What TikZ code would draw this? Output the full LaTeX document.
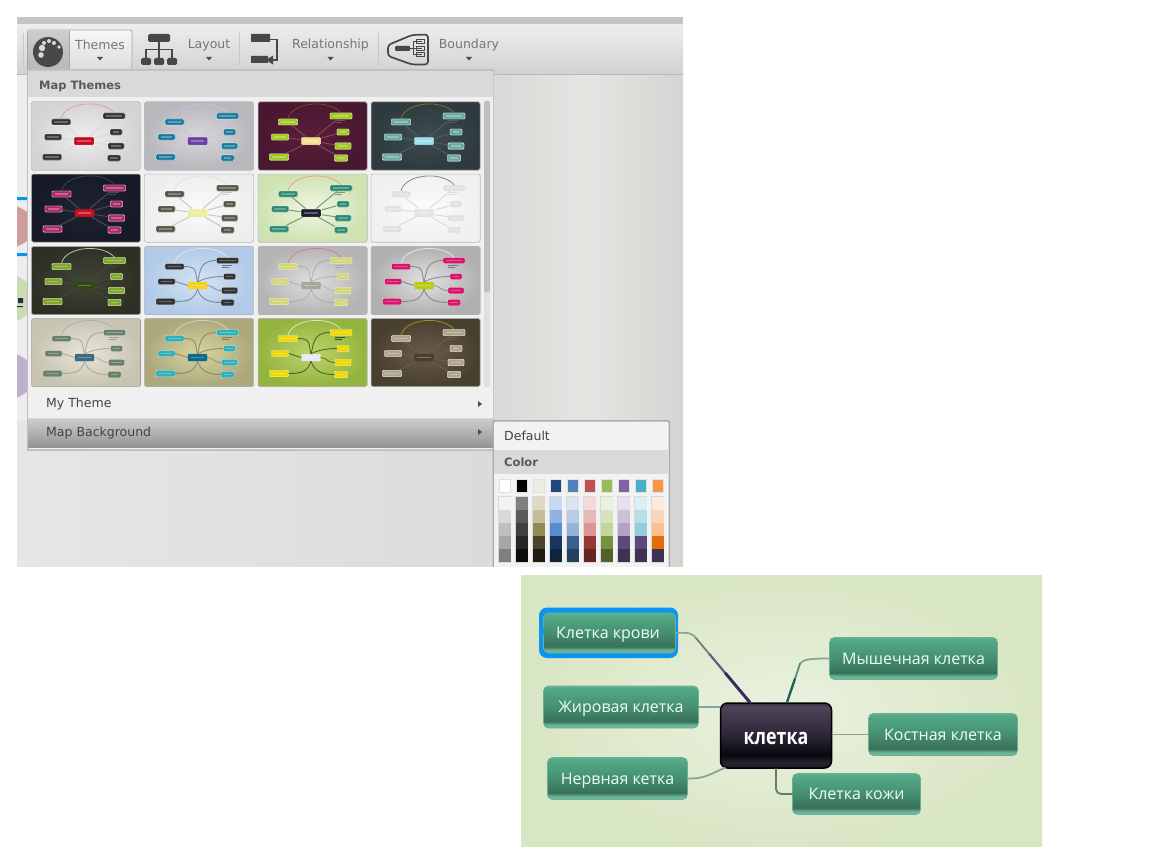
\documentclass[tikz,border=0pt]{standalone}
\usepackage{fontspec}
\setmainfont{DejaVu Sans}
\newfontfamily\mapfont{Open Sans}
\usetikzlibrary{calc}
\definecolor{tbtext}{HTML}{777777}
\definecolor{menutext}{HTML}{444444}
\definecolor{icondark}{HTML}{484848}
\definecolor{selblue}{HTML}{0A96EE}
\definecolor{leafedge}{HTML}{6FAE95}
\pgfdeclareverticalshading{greennode}{100bp}{
  rgb(0bp)=(0.44,0.74,0.62); rgb(25bp)=(0.44,0.74,0.62); rgb(29bp)=(0.40,0.70,0.58); rgb(33bp)=(0.22,0.44,0.35);
  rgb(50bp)=(0.27,0.56,0.44); rgb(73bp)=(0.32,0.67,0.53); rgb(75bp)=(0.40,0.70,0.58); rgb(100bp)=(0.40,0.70,0.58)}
\pgfdeclareverticalshading{darknode}{100bp}{rgb(0bp)=(0.1,0.09,0.13); rgb(25bp)=(0.1,0.09,0.13); rgb(29bp)=(0.16,0.14,0.2); rgb(35bp)=(0.03,0.03,0.05);
  rgb(50bp)=(0.17,0.15,0.21); rgb(72bp)=(0.30,0.27,0.35); rgb(75bp)=(0.2,0.18,0.25); rgb(100bp)=(0.2,0.18,0.25)}
\pgfdeclareverticalshading{tbshade}{100bp}{rgb(0bp)=(0.82,0.82,0.82); rgb(25bp)=(0.82,0.82,0.82); rgb(75bp)=(0.93,0.93,0.93); rgb(100bp)=(0.93,0.93,0.93)}
\pgfdeclarehorizontalshading{canvasright}{100bp}{rgb(0bp)=(0.85,0.855,0.845); rgb(25bp)=(0.85,0.855,0.845); rgb(50bp)=(0.89,0.9,0.885); rgb(75bp)=(0.825,0.835,0.82); rgb(100bp)=(0.825,0.835,0.82)}
\newcommand{\low}[2][5.5pt]{\raisebox{-#1}[0pt][0pt]{#2}}
\tikzset{
  x=1pt,y=-1pt,
  tbl/.style={font=\fontsize{12.5}{14}\selectfont,text=tbtext,inner sep=0pt},
  menul/.style={font=\fontsize{12.5}{14}\selectfont,text=menutext,inner sep=0pt,anchor=west},
  menuh/.style={font=\bfseries\fontsize{11.5}{14}\selectfont,text=black!65,inner sep=0pt,anchor=west},
  leaf/.style={shading=greennode,draw=leafedge,line width=.8pt,rounded corners=5pt,inner sep=0pt,
    text=white!93!green,font=\mapfont\fontsize{16}{18}\selectfont},
  hub/.style={shading=darknode,draw=black,line width=1.5pt,rounded corners=7pt,inner sep=0pt,
    text=white,font=\mapfont\bfseries\fontsize{21}{24}\selectfont},
  link/.style={line width=1.8pt,draw=#1,line cap=round},
  tnode/.style={draw=white,draw opacity=.75,line width=.4pt,rounded corners=1pt,inner sep=0pt,minimum height=6pt},
}
% x y bgin bgout centre node arc line curved
\newcommand{\thumbcard}[9]{%
\definecolor{tin}{HTML}{#3}\definecolor{tout}{HTML}{#4}\definecolor{tctr}{HTML}{#5}\definecolor{tnd}{HTML}{#6}\definecolor{tarc}{HTML}{#7}\definecolor{tln}{HTML}{#8}%
\begin{scope}[shift={(#1,#2)},name prefix=t#1-#2-]
\fill[rounded corners=1.5pt,inner color=tin,outer color=tout,draw=black!25,line width=.5pt] (0,0) rectangle (109,68);
\node[tnode,fill=tctr,draw=tctr,minimum width=19pt,minimum height=7pt] (c) at (53,39) {};
\node[tnode,fill=tnd,minimum width=19pt] (a) at (30,20) {};
\node[tnode,fill=tnd,minimum width=22pt] (b) at (83,14) {};
\node[tnode,fill=tnd,minimum width=12pt] (d) at (85,30) {};
\node[tnode,fill=tnd,minimum width=17pt] (e) at (22,35) {};
\node[tnode,fill=tnd,minimum width=16pt,minimum height=6.5pt] (f) at (85,44) {};
\node[tnode,fill=tnd,minimum width=19pt,minimum height=6.5pt] (g) at (21,55) {};
\node[tnode,fill=tnd,minimum width=13pt,minimum height=6.5pt] (h) at (83,56) {};
\draw[tarc,line width=.8pt] (a.north) .. controls ($(a.north)+(4,-17)$) and ($(b.north)+(-12,-14)$) .. (b.north);
\ifnum#9=1
\draw[tln,line width=.9pt,draw opacity=.8] (a.east) .. controls ($(a.east)+(14,0)$) and ($(c.north)+(-3,-10)$) .. (c.north);
\draw[tln,line width=.9pt,draw opacity=.8] (b.west) .. controls ($(b.west)+(-17,0)$) and ($(c.north)+(3,-10)$) .. (c.north);
\draw[tln,line width=.9pt,draw opacity=.8] (d.west) .. controls ($(d.west)+(-12,0)$) and ($(c.north)+(6,-3)$) .. (c.north);
\draw[tln,line width=.9pt,draw opacity=.8] (e.east) -- (c.west);
\draw[tln,line width=.7pt,draw opacity=.8] (f.west) .. controls ($(f.west)+(-8,0)$) and ($(c.east)+(6,0)$) .. (c.east);
\draw[tln,line width=.9pt,draw opacity=.8] (g.east) .. controls ($(g.east)+(16,0)$) and ($(c.south)+(-3,9)$) .. (c.south);
\draw[tln,line width=.9pt,draw opacity=.8] (h.west) .. controls ($(h.west)+(-14,0)$) and ($(c.south)+(3,9)$) .. (c.south);
\else
\foreach \q in {a,b,d,e,f,g,h} {\draw[tln,line width=1pt,shorten >=1pt] (\q) -- (c);}
\node[tnode,fill=tctr,draw=tctr,minimum width=19pt,minimum height=7pt] at (53,39) {};
\foreach \q/\w in {a/19,b/22,d/12,e/17,f/16,g/19,h/13} {\node[tnode,fill=tnd,minimum width=\w pt] at (\q) {};}
\fi
\foreach \q in {a,b,d,e,f,g,h,c} {\draw[white,opacity=.28,line width=1.2pt] ($(\q.west)+(3,0)$) -- ($(\q.east)+(-3,0)$);}
\draw[tln,line width=.5pt] (77,18.5) -- (87,18.5) (77,20.5) -- (84,20.5);
\end{scope}}
\begin{document}
\begin{tikzpicture}
\useasboundingbox (0,0) rectangle (1150,864);
\fill[white] (0,0) rectangle (1150,864);
% canvas
\definecolor{canvl}{HTML}{E6E7E5}\definecolor{canvr}{HTML}{DADCD9}
\definecolor{blobr}{HTML}{CD9C9C}\definecolor{blobg}{HTML}{CADCB4}\definecolor{blobv}{HTML}{BDB2CE}\definecolor{fragdark}{HTML}{2A2A50}
\begin{scope}
\clip (17,17) rectangle (683,566.5);
\shade[left color=canvl,right color=canvr] (17,74) rectangle (495,567);
\shade[shading=canvasright] (495,74) rectangle (683,567);
\fill[black!7] (17,74) rectangle (27,420);
\fill[blobr] (-5,226.5) ellipse (40 and 24);
\fill[blobg] (-5,298.5) ellipse (40 and 27);
\fill[blobv] (-5,376) ellipse (40 and 26);
\fill[selblue] (17,197) rectangle (27,200) (17,253) rectangle (27,256);
\fill[fragdark] (18,298) rectangle (23,303) (17,306) rectangle (23,307);
\fill[black!23] (17,17) rectangle (683,25);
\shade[shading=tbshade] (17,25) rectangle (683,74);
\draw[black!28] (17,74) -- (683,74);
\end{scope}
% toolbar dividers
\foreach \q in {23,239,378} {\draw[black!22,line width=.7pt] (\q,33) -- (\q,66);}
% themes button
\shade[top color=black!3,bottom color=black!14,draw=black!35,rounded corners=2pt,line width=.8pt] (27.5,30) rectangle (132,70.5);
\shade[top color=black!20,bottom color=black!28,rounded corners=2pt] (28,30.5) rectangle (69,70);
\draw[black!35,line width=.6pt] (69,30.5) -- (69,70);
\node[circle,fill=icondark,minimum size=30pt,inner sep=0pt] (palette) at (48,52) {};
\foreach \a/\b/\r in {49/41/2,44/43/2,54/43/2,59/47/1.8,42/48/3.2,41/55/2.8} {\fill[black!15] (\a,\b) circle (\r);}
\node[tbl] (themes) at (100,45) {Themes};
\node[tbl] (layout) at (209,45) {Layout};
\node[tbl] (relation) at (330.5,45) {Relationship};
\node[tbl] (boundary) at (469,45) {Boundary};
\foreach \q in {100,209,330.5,469} {\fill[black!70] (\q-3,57) -- (\q+3,57) -- (\q,60.5) -- cycle;}
% layout icon
\fill[icondark,rounded corners=1.5pt] (148,34) rectangle (170,42) (141,58) rectangle (151,65) (154,58) rectangle (164,65) (167,58) rectangle (177,65);
\draw[icondark,line width=1.6pt] (159,42) -- (159,58) (146,58) -- (146,49.5) -- (172,49.5) -- (172,58);
% relationship icon
\fill[icondark] (251,34) rectangle (270,42) (251,56) rectangle (268,63);
\draw[icondark,line width=1.6pt] (270,39.5) -- (277,39.5) -- (277,60) -- (270,60);
\fill[icondark] (266,60) -- (273,55.5) -- (273,64.5) -- cycle;
% boundary icon
\draw[icondark,line width=1.7pt,rounded corners=3pt] (428,34.5) -- (428,64.5) -- (412,64.5) -- (388,56) -- (388,45) -- (412,35) -- cycle;
\fill[icondark,rounded corners=1pt] (395,46) rectangle (410,51);
\draw[icondark,line width=1pt] (410,48.5) -- (413,48.5) (413,42) -- (413,55) (413,42) -- (422,42) (413,48.5) -- (422,48.5) (413,55) -- (422,55);
\draw[icondark,line width=1pt] (416,40) rectangle (424,44) (416,46.5) rectangle (424,50.5) (416,53) rectangle (424,57);
% menu
\fill[black!25] (26.5,69.5) rectangle (494,451);
\fill[black!6,rounded corners=1.5pt] (28,71) rectangle (493,449);
\fill[black!15] (28,71) rectangle (493,97);
\node[menuh] (mapthemes) at (39,86.5) {Map Themes};
\fill[black!12,rounded corners=2pt] (484,101) rectangle (490,387);
\fill[black!25,rounded corners=2pt] (484,101) rectangle (490,292);
\thumbcard{31}{102}{EEEEEE}{D4D4D4}{C80A20}{333333}{E0A0A8}{DADADA}{0}
\thumbcard{144.5}{102}{D8D8DC}{B8B8BC}{6A3FA0}{1C7A9C}{C8C0DC}{C8C8D0}{0}
\thumbcard{258}{102}{5C1C3A}{481830}{F0E090}{A0C820}{7A4A30}{7A4A5A}{0}
\thumbcard{371}{102}{3C4C50}{2E3A3E}{9FDCEC}{6AA8A4}{8A6A30}{505C60}{0}
\thumbcard{31.5}{174}{1E2232}{161A28}{C81020}{B02868}{3A4A30}{4A4A58}{0}
\thumbcard{144.5}{174}{FAFAFA}{EEEEEE}{ECEC9C}{55554A}{E4E4CC}{C8C8C8}{0}
\thumbcard{258}{174}{F0F6E2}{CFE3B2}{201C30}{2A8A70}{E0A090}{7A9A7A}{0}
\thumbcard{371}{174}{FCFCFC}{F0F0F0}{E4E4E4}{E0E0E0}{888888}{DDDDDD}{0}
\thumbcard{31.5}{246.5}{404434}{2E3026}{2F4A10}{80A830}{B8C0B0}{44483A}{0}
\thumbcard{144.5}{246.5}{D4E2F4}{B0CAE8}{F8D020}{333333}{DDE8D8}{667788}{1}
\thumbcard{258}{246.5}{DEDEDE}{B4B4B4}{A8A898}{D4D878}{D87A8A}{AAAAAA}{1}
\thumbcard{371}{246.5}{E2E2E2}{B0B0B0}{B8CC10}{D8146C}{E8E8E8}{777777}{1}
\thumbcard{31.5}{318.5}{E8E6D8}{C8C4B2}{406A80}{68806A}{B8A8B8}{A0A090}{1}
\thumbcard{144.5}{318.5}{D8D4A0}{ACA87C}{0E6A8A}{30B0B8}{C8D8B8}{807C58}{1}
\thumbcard{258}{318.5}{BCD468}{94B440}{E8E8F0}{F0D800}{D8E8B0}{3A4A20}{1}
\thumbcard{371}{318.5}{6A5A48}{48402F}{4A3E30}{B0A490}{A09018}{6A5C4C}{0}
% rows
\draw[black!15] (28,418.5) -- (493,418.5);
\node[menul] (mytheme) at (46,404.5) {My Theme};
\fill[black!70] (478,401) -- (482,404) -- (478,407) -- cycle;
\shade[top color=black!20,bottom color=black!42] (28,419) rectangle (493,447);
\node[menul] (mapbg) at (46,433) {Map Background};
\fill[black!70] (478,429) -- (482,432) -- (478,435) -- cycle;
% submenu
\begin{scope}
\clip (480,415) rectangle (683,566.5);
\fill[black!32,rounded corners=2pt] (492.5,420) rectangle (670,580);
\fill[black!5,rounded corners=1.5pt] (494,421.5) rectangle (668.5,580);
\fill[black!15] (494,450) rectangle (668.5,474);
\node[menul] (default) at (504,436) {Default};
\node[menuh] (color) at (504,462) {Color};
\foreach \n/\cc/\ca/\cb/\cd/\ce/\cf [count=\i from 0] in {
 0/FFFFFF/F2F2F2/D9D9D9/BFBFBF/A6A6A6/7F7F7F,
 1/000000/7F7F7F/595959/3F3F3F/262626/0C0C0C,
 2/EEECE1/DDD9C3/C4BD97/938953/494429/1D1B10,
 3/1F497D/C6D9F0/8DB3E2/548DD4/17365D/0F243E,
 4/4F81BD/DBE5F1/B8CCE4/95B3D7/366092/244061,
 5/C0504D/F2DCDB/E5B9B7/D99694/953734/632423,
 6/9BBB59/EBF1DD/D7E3BC/C3D69B/76923C/4F6128,
 7/8064A2/E5E0EC/CCC1D9/B2A2C7/5F497A/3F3151,
 8/4BACC6/DBEEF3/B7DDE8/92CDDC/5F497A/3F3151,
 9/F79646/FDEADA/FBD5B5/FAC08F/E36C09/3F3151} {
  \pgfmathsetmacro{\xa}{499+17*\i}
  \pgfmathsetmacro{\xb}{\xa+11.5}
  \definecolor{sw}{HTML}{\cc}
  \fill[sw,draw=black!12,line width=.7pt] (\xa,479) rectangle (\xb,492);
  \draw[black!15,line width=1.4pt] (\xa,497) rectangle (\xb,562);
  \definecolor{sw}{HTML}{\ca}\fill[sw] (\xa,497) rectangle (\xb,510);
  \definecolor{sw}{HTML}{\cb}\fill[sw] (\xa,510) rectangle (\xb,523);
  \definecolor{sw}{HTML}{\cd}\fill[sw] (\xa,523) rectangle (\xb,536);
  \definecolor{sw}{HTML}{\ce}\fill[sw] (\xa,536) rectangle (\xb,549);
  \definecolor{sw}{HTML}{\cf}\fill[sw] (\xa,549) rectangle (\xb,562);
}
\end{scope}
% mind map
\definecolor{mapbg}{HTML}{D9E6C4}\definecolor{mapin}{HTML}{EAF2DF}
\fill[inner color=mapin,outer color=mapbg] (521,575) rectangle (1042,846);
\node[hub,minimum width=111pt,minimum height=65pt] (cell) at (776,735.5) {\low[9pt]{\scalebox{.85}[1.05]{клетка}}};
\fill[selblue,rounded corners=8pt] (539,607.5) rectangle (678,658);
\node[leaf,minimum width=132pt,minimum height=40pt] (blood) at (609.5,633) {\low{\hspace*{-3pt}Клетка крови}};
\fill[selblue] (541,624) -- (545,631) -- (541,638) -- cycle;
\node[leaf,minimum width=155pt,minimum height=42pt] (fat) at (621,707) {\low{Жировая клетка}};
\node[leaf,minimum width=140pt,minimum height=42pt] (nerve) at (617.5,778.5) {\low{Нервная кетка}};
\node[leaf,minimum width=168pt,minimum height=42pt] (muscle) at (913.5,658.5) {\low{Мышечная клетка}};
\node[leaf,minimum width=149pt,minimum height=42pt] (bone) at (943,734.5) {\low{Костная клетка}};
\node[leaf,minimum width=128pt,minimum height=41pt] (skin) at (856.5,794) {\low{Клетка кожи}};
\definecolor{lnk}{HTML}{8AA39B}\definecolor{lnkmid}{HTML}{5F5F78}\definecolor{lnkdk}{HTML}{3A2A5A}
\definecolor{lnkteal}{HTML}{5C8A84}\definecolor{lnktdk}{HTML}{27605A}
\coordinate (bendb) at ($(blood.east)+(20,5)$);
\coordinate (hubb) at ($(cell.north west)+(30,0)$);
\draw[link=lnk] (blood.east) .. controls ($(blood.east)+(14,-1)$) and ($(blood.east)+(17,1)$) .. (bendb);
\draw[link=lnk!80!black] (bendb) -- ($(bendb)!.25!(hubb)$);
\draw[link=lnkmid,line width=2.2pt] ($(bendb)!.25!(hubb)$) -- ($(bendb)!.55!(hubb)$);
\draw[link=lnkdk,line width=3pt] ($(bendb)!.55!(hubb)$) -- (hubb);
\draw[link=lnk] (fat.east) -- (cell.west |- fat.east);
\draw[link=lnk] (nerve.east) .. controls ($(nerve.east)+(15,0)$) and ($(nerve.east)+(18,-2)$) .. ($(cell.south west)+(5,-1)$);
\coordinate (hubm) at ($(cell.north)+(11,0)$);
\coordinate (bendm) at ($(muscle.west)+(-29,5)$);
\draw[link=lnk] (muscle.west) .. controls ($(muscle.west)+(-20,0)$) and ($(muscle.west)+(-26,1)$) .. (bendm);
\draw[link=lnkteal] (bendm) -- ($(bendm)!.4!(hubm)$);
\draw[link=lnktdk,line width=2.4pt] ($(bendm)!.4!(hubm)$) -- (hubm);
\draw[link=lnk] (cell.east |- bone.west) -- (bone.west);
\draw[link=lnk!75!black,rounded corners=5pt] (cell.south) -- (skin.west -| cell.south) -- (skin.west);
\end{tikzpicture}
\end{document}
